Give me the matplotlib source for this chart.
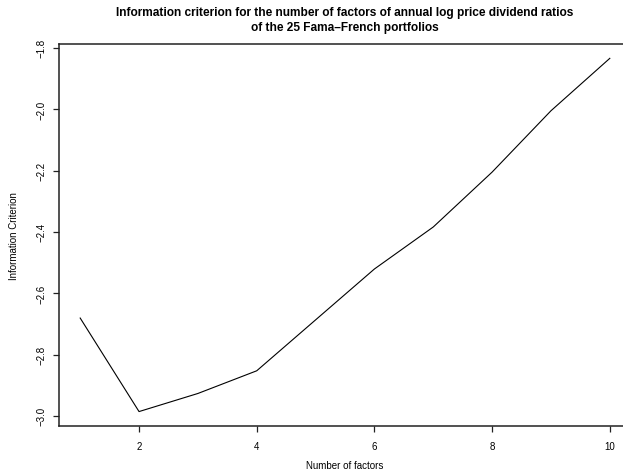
import matplotlib
matplotlib.use("Agg")
import matplotlib.pyplot as plt

plt.rcParams['font.family'] = ['Liberation Sans', 'DejaVu Sans']

n_factors = [1, 2, 3, 4, 5, 6, 7, 8, 9, 10]
info_criterion = [-2.681, -2.986, -2.927, -2.853, -2.687, -2.521, -2.384, -2.205, -2.005, -1.834]
x_ticks = [2, 4, 6, 8, 10]
y_ticks = [-3.0, -2.8, -2.6, -2.4, -2.2, -2.0, -1.8]

W, H = 623, 477
fig = plt.figure(figsize=(W / 100, H / 100), dpi=100)
# plot region (extends slightly beyond right edge, as in the reference)
left_px, right_px, top_px, bottom_px = 59, 631, 45.2, 426.7
ax = fig.add_axes([left_px / W, 1 - bottom_px / H,
                   (right_px - left_px) / W, (bottom_px - top_px) / H])

ax.plot(n_factors, info_criterion, color='black', lw=0.8)

xr = max(n_factors) - min(n_factors)
ax.set_xlim(min(n_factors) - 0.04 * xr, max(n_factors) + 0.04 * xr)
yr = max(info_criterion) - min(info_criterion)
ax.set_ylim(min(info_criterion) - 0.04 * yr, max(info_criterion) + 0.04 * yr)

ax.set_xticks(x_ticks)
ax.set_xticklabels([str(t) for t in x_ticks])
ax.set_yticks(y_ticks)
ax.set_yticklabels([f"{t:.1f}".replace('-', '\u2212') for t in y_ticks],
                   rotation=90, va='center')

for s in ax.spines.values():
    s.set_linewidth(1.1)
    s.set_color('#222222')

ax.tick_params(axis='both', direction='out', length=4.3, width=0.9,
               labelsize=7, colors='#222222', labelcolor='black')
ax.tick_params(axis='x', pad=6.5)
ax.tick_params(axis='y', pad=5.0)

ax.set_xlabel('Number of factors', fontsize=7, va='center')
ax.xaxis.set_label_coords(0.5, -(466 - bottom_px) / (bottom_px - top_px))
ax.set_ylabel('Information Criterion', fontsize=7, va='center')
ax.yaxis.set_label_coords(-(left_px - 14) / (right_px - left_px), 0.5)

fig.text((left_px + right_px) / 2 / W, 1 - 20.5 / H,
         'Information criterion for the number of factors of annual log price dividend ratios\n'
         'of the 25 Fama\u2013French portfolios',
         ha='center', va='center', fontsize=8.55, fontweight='bold',
         linespacing=1.3)

fig.savefig('out.png', dpi=100)
